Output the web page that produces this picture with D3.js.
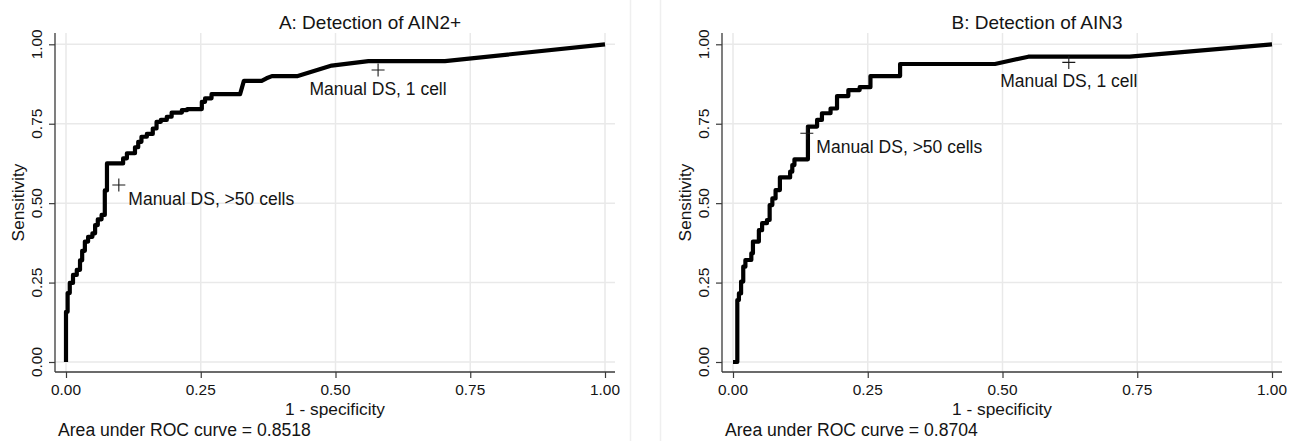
<!DOCTYPE html>
<html>
<head>
<meta charset="utf-8">
<script src="https://cdn.jsdelivr.net/npm/d3@7/dist/d3.min.js"></script>
<style>
body { margin: 0; background: #fff; }
svg text { font-family: "Liberation Sans", Arial, Helvetica, sans-serif; fill: #141414; }
</style>
</head>
<body>
<svg width="1298" height="441"></svg>
<script>
// tick values + labels (same on both axes)
var ticks = [0, 0.25, 0.5, 0.75, 1]
var tickLabels = ["0.00", "0.25", "0.50", "0.75", "1.00"]

var titles = ["A: Detection of AIN2+", "B: Detection of AIN3"]
var aucLabels = ["Area under ROC curve = 0.8518", "Area under ROC curve = 0.8704"]

// ROC curve A (AIN2+)
var fprA = [0, 0, 0.003, 0.003, 0.007, 0.007, 0.013, 0.013, 0.02, 0.02, 0.026, 0.026, 0.03, 0.03, 0.035, 0.035,
    0.041, 0.041, 0.049, 0.049, 0.054, 0.054, 0.059, 0.059, 0.066, 0.066, 0.072, 0.072, 0.076, 0.076,
    0.106, 0.106, 0.113, 0.113, 0.128, 0.128, 0.134, 0.134, 0.14, 0.14, 0.15, 0.15, 0.161, 0.161,
    0.168, 0.168, 0.176, 0.176, 0.187, 0.187, 0.196, 0.196, 0.215, 0.215, 0.225, 0.225, 0.252, 0.252,
    0.258, 0.258, 0.27, 0.27, 0.323, 0.33, 0.363, 0.372, 0.382, 0.43, 0.493, 0.561, 0.703, 1]
var sensA = [0, 0.158, 0.158, 0.217, 0.217, 0.249, 0.249, 0.274, 0.274, 0.29, 0.29, 0.32, 0.32, 0.35, 0.35, 0.379,
    0.379, 0.394, 0.394, 0.405, 0.405, 0.431, 0.431, 0.449, 0.449, 0.463, 0.463, 0.54, 0.54, 0.625,
    0.625, 0.641, 0.641, 0.657, 0.657, 0.676, 0.676, 0.693, 0.693, 0.709, 0.709, 0.718, 0.718, 0.735,
    0.735, 0.756, 0.756, 0.762, 0.762, 0.772, 0.772, 0.785, 0.785, 0.793, 0.793, 0.796, 0.796, 0.819,
    0.819, 0.83, 0.83, 0.843, 0.843, 0.885, 0.885, 0.893, 0.9, 0.9, 0.933, 0.947, 0.947, 1]

// ROC curve B (AIN3)
var fprB = [0, 0.008, 0.008, 0.011, 0.011, 0.015, 0.015, 0.019, 0.019, 0.023, 0.023, 0.034, 0.034, 0.037, 0.037,
    0.048, 0.048, 0.054, 0.054, 0.063, 0.063, 0.068, 0.068, 0.073, 0.073, 0.079, 0.079, 0.087, 0.087,
    0.106, 0.106, 0.11, 0.11, 0.114, 0.114, 0.139, 0.139, 0.156, 0.156, 0.165, 0.165, 0.181, 0.181,
    0.193, 0.193, 0.214, 0.214, 0.235, 0.235, 0.255, 0.255, 0.31, 0.31, 0.486, 0.548, 0.736, 1]
var sensB = [0, 0, 0.195, 0.195, 0.216, 0.216, 0.253, 0.253, 0.3, 0.3, 0.321, 0.321, 0.342, 0.342, 0.379,
    0.379, 0.415, 0.415, 0.437, 0.437, 0.447, 0.447, 0.494, 0.494, 0.515, 0.515, 0.541, 0.541, 0.581,
    0.581, 0.599, 0.599, 0.62, 0.62, 0.638, 0.638, 0.741, 0.741, 0.762, 0.762, 0.783, 0.783, 0.798,
    0.798, 0.837, 0.837, 0.856, 0.856, 0.865, 0.865, 0.9, 0.9, 0.938, 0.938, 0.961, 0.961, 1]

// manual DS points
var dsLabels = ["Manual DS, >50 cells", "Manual DS, 1 cell"]
var dsFprA = [0.098, 0.579]
var dsSensA = [0.557, 0.919]
var dsFprB = [0.137, 0.623]
var dsSensB = [0.72, 0.943]

var svg = d3.select("svg")

// faint edges of the two panel images
svg.append("line").attr("x1", 630.5).attr("x2", 630.5).attr("y1", 0).attr("y2", 441)
    .attr("stroke", "#efefef").attr("stroke-width", 1.5)
svg.append("line").attr("x1", 660.5).attr("x2", 660.5).attr("y1", 0).attr("y2", 441)
    .attr("stroke", "#efefef").attr("stroke-width", 1.5)

var panels = [
    {dx: 0, fpr: fprA, sens: sensA, dsFpr: dsFprA, dsSens: dsSensA},
    {dx: 667, fpr: fprB, sens: sensB, dsFpr: dsFprB, dsSens: dsSensB}
]

var frame = {left: 55, right: 615, top: 33, bottom: 372}

var drawPanel = function(p, i)
{
    var g = svg.append("g").attr("transform", "translate(" + p.dx + ",0)")

    var xScale = d3.scaleLinear().domain([0, 1]).range([66, 605])
    var yScale = d3.scaleLinear().domain([0, 1]).range([362, 44.3])

    // grid
    g.selectAll(".hgrid").data(ticks).enter().append("line")
        .attr("x1", frame.left).attr("x2", frame.right)
        .attr("y1", function(d) { return yScale(d) })
        .attr("y2", function(d) { return yScale(d) })
        .attr("stroke", "#e9e9e9").attr("stroke-width", 1.5)
    g.selectAll(".vgrid").data(ticks).enter().append("line")
        .attr("y1", frame.top).attr("y2", frame.bottom)
        .attr("x1", function(d) { return xScale(d) })
        .attr("x2", function(d) { return xScale(d) })
        .attr("stroke", "#e9e9e9").attr("stroke-width", 1.5)

    // axes
    var xAxis = d3.axisBottom(xScale).tickValues(ticks).tickSize(6).tickFormat("")
    var yAxis = d3.axisLeft(yScale).tickValues(ticks).tickSize(6).tickFormat("")

    var xg = g.append("g").attr("transform", "translate(0," + frame.bottom + ")").call(xAxis)
    xg.select(".domain").attr("d", "M" + frame.left + ",0H" + frame.right)
    var yg = g.append("g").attr("transform", "translate(" + frame.left + ",0)").call(yAxis)
    yg.select(".domain").attr("d", "M0," + frame.top + "V" + frame.bottom)
    g.selectAll(".domain").attr("stroke", "#3a3a3a").attr("stroke-width", 1.3)
    g.selectAll(".tick line").attr("stroke", "#3a3a3a").attr("stroke-width", 1.2)

    // tick labels
    g.selectAll(".xlab").data(ticks).enter().append("text")
        .attr("x", function(d) { return xScale(d) })
        .attr("y", 390).attr("dy", "0.35em")
        .attr("text-anchor", "middle")
        .style("font-size", "15.4px")
        .text(function(d, k) { return tickLabels[k] })
    g.selectAll(".ylab").data(ticks).enter().append("text")
        .attr("transform", function(d) { return "translate(37," + yScale(d) + ") rotate(-90)" })
        .attr("dy", "0.35em")
        .attr("text-anchor", "middle")
        .style("font-size", "15.4px")
        .text(function(d, k) { return tickLabels[k] })

    // titles
    g.append("text").attr("x", 370).attr("y", 22).attr("dy", "0.35em")
        .attr("text-anchor", "middle").style("font-size", "19px").text(titles[i])
    g.append("text").attr("x", 335).attr("y", 409).attr("dy", "0.35em")
        .attr("text-anchor", "middle").style("font-size", "17.3px").text("1 - specificity")
    g.append("text").attr("transform", "translate(18," + ((frame.top + frame.bottom) / 2) + ") rotate(-90)")
        .attr("dy", "0.35em")
        .attr("text-anchor", "middle").style("font-size", "17.3px").text("Sensitivity")
    g.append("text").attr("x", 58).attr("y", 430).attr("dy", "0.35em")
        .style("font-size", "17.6px").text(aucLabels[i])

    // roc curve
    var pts = p.fpr.map(function(f, k) { return [f, p.sens[k]] })
    var line = d3.line()
        .x(function(d) { return xScale(d[0]) })
        .y(function(d) { return yScale(d[1]) })
    g.append("path").datum(pts)
        .attr("d", line)
        .attr("fill", "none")
        .attr("stroke", "#000")
        .attr("stroke-width", 4.2)
        .attr("stroke-linejoin", "round")

    // manual DS markers
    var ds = p.dsFpr.map(function(f, k) { return {x: f, y: p.dsSens[k], label: dsLabels[k]} })
    var marks = g.selectAll(".ds").data(ds).enter().append("g")
        .attr("transform", function(d) { return "translate(" + xScale(d.x) + "," + yScale(d.y) + ")" })
    marks.append("path")
        .attr("d", "M-6.5,0H6.5M0,-6.5V6.5")
        .attr("stroke", "#1a1a1a").attr("stroke-width", 1.1)
    marks.append("text")
        .attr("x", function(d, k) { return k == 0 ? 9.5 : 0 })
        .attr("y", function(d, k) { return k == 0 ? 14 : 18.5 })
        .attr("dy", "0.35em")
        .attr("text-anchor", function(d, k) { return k == 0 ? "start" : "middle" })
        .style("font-size", "17.5px")
        .text(function(d) { return d.label })
}

panels.forEach(drawPanel)
</script>
</body>
</html>
